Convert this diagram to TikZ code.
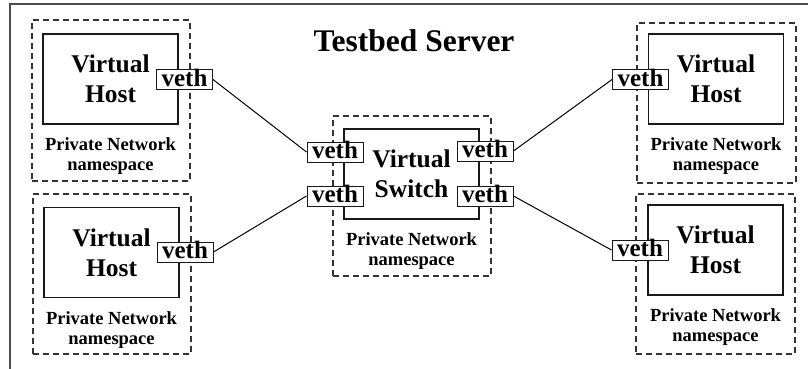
\documentclass[tikz,border=0pt]{standalone}
\usepackage{fontspec}
\setmainfont{Liberation Serif}
\begin{document}
\begin{tikzpicture}[x=1pt,y=-1pt,
  nsbox/.style={draw=black!80, line width=1.1pt, dash pattern=on 6pt off 4pt, inner sep=0pt},
  hostbox/.style={draw=black!90, line width=1.4pt, fill=white, inner sep=0pt, minimum width=135pt, minimum height=90pt},
  hosttext/.style={align=center, inner sep=0pt, font=\bfseries\fontsize{25.5}{30}\selectfont},
  vethbox/.style={draw=black!90, line width=1pt, fill=white, inner sep=0pt, minimum width=56pt, minimum height=20pt, text height=16pt, text depth=3pt, font=\bfseries\fontsize{25}{25}\selectfont},
  nstext/.style={align=center, inner sep=0pt, anchor=north, font=\bfseries\fontsize{18.5}{20}\selectfont},
  link/.style={line width=1pt, black}]
\useasboundingbox (0,0) rectangle (808,369);
\fill[white] (0,0) rectangle (808,369);

% server frame
\draw[line width=1.6pt, black!70] (10,369) -- (10,4) -- (808,4);
\node[font=\bfseries\fontsize{31.5}{33}\selectfont, inner sep=0pt] (title) at (414,41) {Testbed Server};

% namespaces (dashed)
\node[nsbox, minimum width=158pt, minimum height=161pt] (nsTL) at (111,100.5) {};
\node[nsbox, minimum width=158pt, minimum height=160pt] (nsBL) at (112,274) {};
\node[nsbox, minimum width=158pt, minimum height=160pt] (nsC)  at (412,196) {};
\node[nsbox, minimum width=159pt, minimum height=160pt] (nsTR) at (716.5,103) {};
\node[nsbox, minimum width=159pt, minimum height=160pt] (nsBR) at (715.5,274) {};

% hosts and switch
\node[hostbox] (hTL) at (110.5,79) {};
\node[hosttext] at (hTL) {Virtual\\Host};
\node[hostbox] (hBL) at (111.5,252.5) {};
\node[hosttext] at (hBL) {Virtual\\Host};
\node[hostbox] (sw) at (411.5,174) {};
\node[hosttext] at (sw) {Virtual\\Switch};
\node[hostbox] (hTR) at (716,79) {};
\node[hosttext] at (hTR) {Virtual\\Host};
\node[hostbox] (hBR) at (715.5,250) {};
\node[hosttext] at (hBR) {Virtual\\Host};

% namespace labels
\node[nstext] (lTL) at ([yshift=-13pt]hTL.south) {Private Network\\namespace};
\node[nstext] (lBL) at ([yshift=-13pt]hBL.south) {Private Network\\namespace};
\node[nstext] (lC)  at ([yshift=-13pt]sw.south)  {Private Network\\namespace};
\node[nstext] (lTR) at ([yshift=-13pt]hTR.south) {Private Network\\namespace};
\node[nstext] (lBR) at ([yshift=-13pt]hBR.south) {Private Network\\namespace};

% veth interfaces
\node[vethbox] (vTL) at (184.5,79.5) {veth};
\node[vethbox] (vBL) at (185,252) {veth};
\node[vethbox] (vCLT) at (335,152) {veth};
\node[vethbox] (vCLB) at (335,196) {veth};
\node[vethbox] (vCRT) at (485,151) {veth};
\node[vethbox] (vCRB) at (485,196) {veth};
\node[vethbox] (vTR) at (640.5,79.5) {veth};
\node[vethbox] (vBR) at (640,250) {veth};

% veth pairs
\draw[link] (vTL.east) -- (vCLT.west);
\draw[link] (vBL.east) -- (vCLB.west);
\draw[link] (vCRT.east) -- (vTR.west);
\draw[link] (vCRB.east) -- (vBR.west);
\end{tikzpicture}
\end{document}
